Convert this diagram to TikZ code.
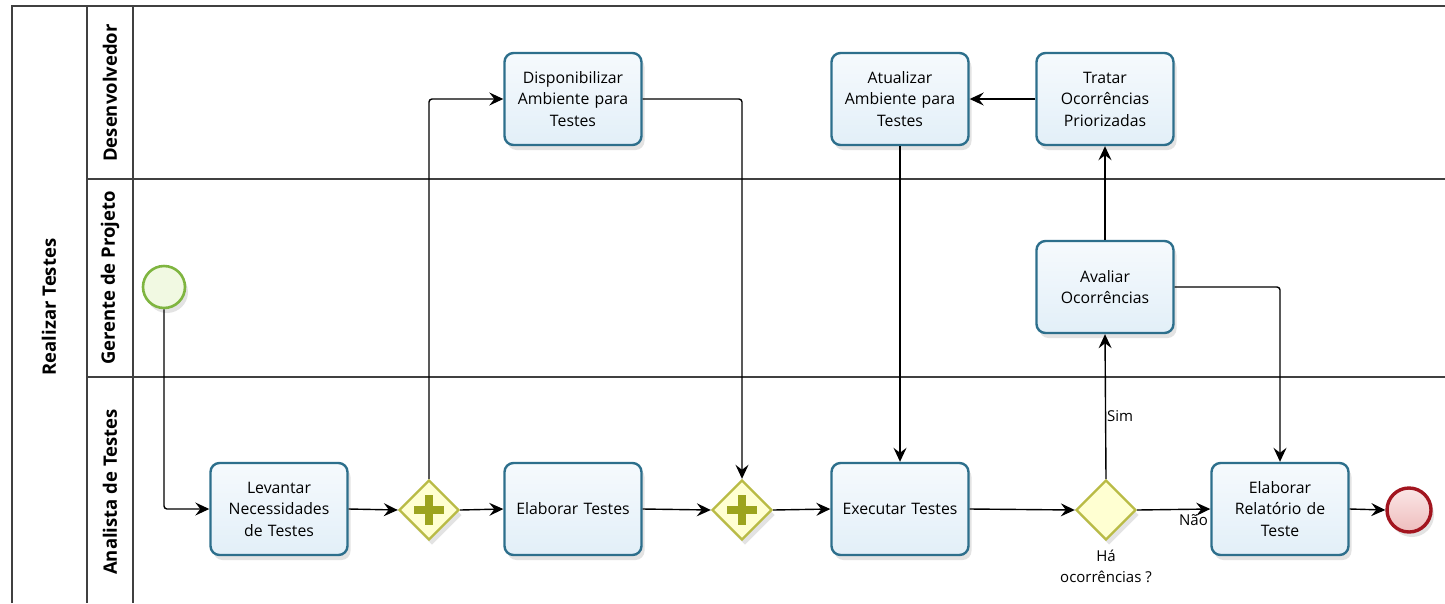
\documentclass[tikz,border=0pt]{standalone}
\usepackage{fontspec}
\setmainfont{Open Sans}
\usetikzlibrary{arrows.meta,shapes.geometric,shadows,calc}

\definecolor{poolgray}{HTML}{404040}
\definecolor{taskline}{HTML}{2D6F8C}
\definecolor{tasktop}{HTML}{F6FAFD}
\definecolor{taskbot}{HTML}{E2EFF8}
\definecolor{gwline}{HTML}{B9BB45}
\definecolor{gwfill}{HTML}{FFFFD2}
\definecolor{gwplus}{HTML}{9CA41E}
\definecolor{startline}{HTML}{7FB540}
\definecolor{startfill}{HTML}{F1F9E2}
\definecolor{endline}{HTML}{A2151F}
\definecolor{endtop}{HTML}{FBE6E6}
\definecolor{endbot}{HTML}{EEBDBD}

\tikzset{
  poolline/.style={draw=poolgray, line width=1.2pt},
  softshadow/.style={drop shadow={shadow xshift=3pt, shadow yshift=-5pt, opacity=0.18, fill=black!60}},
  task/.style={draw=taskline, line width=2.4pt, rounded corners=9pt,
    top color=tasktop, bottom color=taskbot,
    minimum width=137pt, minimum height=92pt, text width=132pt, align=center,
    inner sep=0pt, font=\fontsize{15.8}{21.5}\selectfont, softshadow},
  gateway/.style={diamond, aspect=1, draw=gwline, line width=2.4pt, fill=gwfill,
    minimum width=60pt, minimum height=60pt, inner sep=0pt, softshadow},
  startev/.style={circle, draw=startline, line width=2.6pt, fill=startfill,
    minimum size=42pt, inner sep=0pt, softshadow},
  endev/.style={circle, draw=endline, line width=3.4pt, top color=endtop, bottom color=endbot,
    minimum size=44pt, inner sep=0pt, softshadow},
  flow/.style={draw=black, line width=1.4pt, rounded corners=3pt,
    -{Stealth[length=14pt, width=13pt, inset=5pt]}},
  lanelabel/.style={rotate=90, font=\fontsize{18.5}{22}\selectfont\bfseries},
  flowlabel/.style={font=\fontsize{15}{21}\selectfont, inner sep=1pt},
}

\newcommand{\plusmark}[1]{%
  \draw[gwplus, line width=8pt] ($(#1)+(-15,0)$) -- ($(#1)+(15,0)$);
  \draw[gwplus, line width=8pt] ($(#1)+(0,-15)$) -- ($(#1)+(0,15)$);}

\begin{document}
\begin{tikzpicture}[x=1pt, y=-1pt]
\useasboundingbox (0,0) rectangle (1445,603);
\fill[white] (0,0) rectangle (1445,603);

% pool and lanes
\draw[poolline] (12,603) -- (12,6) -- (1445,6);
\draw[poolline] (87,6) -- (87,603);
\draw[poolline] (133,6) -- (133,603);
\draw[poolline] (87,179) -- (1445,179);
\draw[poolline] (87,377) -- (1445,377);

\node[lanelabel] (pool) at (49,307) {Realizar Testes};
\node[lanelabel] (laneDev) at (110,93) {Desenvolvedor};
\node[lanelabel] (laneGer) at (110,278) {Gerente de Projeto};
\node[lanelabel] (laneAna) at (110,492) {Analista de Testes};

% events
\node[startev] (start) at (164,287) {};
\node[endev] (finish) at (1409,510) {};

% tasks
\node[task] (lev)  at (279,509) {Levantar\\Necessidades\\de Testes};
\node[task] (elab) at (573,509) {Elaborar Testes};
\node[task] (exec) at (900,509) {Executar Testes};
\node[task] (rel)  at (1280,509) {Elaborar\\Relatório de\\Teste};
\node[task] (disp) at (573,99) {Disponibilizar\\Ambiente para\\Testes};
\node[task] (atu)  at (900,99) {Atualizar\\Ambiente para\\Testes};
\node[task] (trat) at (1105,99) {Tratar\\Ocorrências\\Priorizadas};
\node[task] (aval) at (1105,287) {Avaliar\\Ocorrências\\[2pt]};

% gateways
\node[gateway] (g1) at (429,510) {};
\node[gateway] (g2) at (742,510) {};
\node[gateway] (xor) at (1106,510) {};
\plusmark{g1}
\plusmark{g2}
\node[flowlabel, align=center, anchor=north] (xorlbl) at ([yshift=-8pt]xor.south) {Há\\ocorrências ?};

% sequence flows
\draw[flow] (start.south) |- (lev.west);
\draw[flow] (lev.east) -- (g1.west);
\draw[flow] (g1.north) |- (disp.west);
\draw[flow] (g1.east) -- (elab.west);
\draw[flow] (elab.east) -- (g2.west);
\draw[flow] (disp.east) -| (g2.north);
\draw[flow] (g2.east) -- (exec.west);
\draw[flow] (atu.south) -- (exec.north);
\draw[flow] (exec.east) -- (xor.west);
\draw[flow] (xor.north) -- (aval.south);
\node[flowlabel, anchor=west] (sim) at (1106,416) {Sim};
\draw[flow] (xor.east) -- (rel.west);
\node[flowlabel, anchor=east] (nao) at (1209,520) {Não};
\draw[flow] (aval.north) -- (trat.south);
\draw[flow] (trat.west) -- (atu.east);
\draw[flow] (aval.east) -| (rel.north);
\draw[flow] (rel.east) -- (finish.west);
\end{tikzpicture}
\end{document}
